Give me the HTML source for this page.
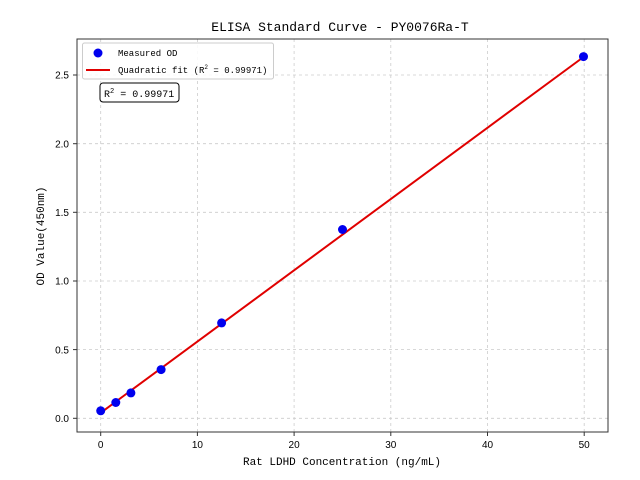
<!DOCTYPE html>
<html><head><meta charset="utf-8"><style>
body{margin:0;background:#fff}
svg{display:block;font-family:"Liberation Mono",monospace}
</style></head><body>
<svg width="640" height="480" viewBox="0 0 640 480" xmlns="http://www.w3.org/2000/svg">
<rect width="640" height="480" fill="#fff"/>
<text x="340" y="31" font-size="13" text-anchor="middle" fill="#000">ELISA Standard Curve - PY0076Ra-T</text>
<g stroke="#ccc" stroke-width="0.8" stroke-dasharray="3,3">
<line x1="100.7" y1="39" x2="100.7" y2="432"/><line x1="197.4" y1="39" x2="197.4" y2="432"/><line x1="294.1" y1="39" x2="294.1" y2="432"/><line x1="390.8" y1="39" x2="390.8" y2="432"/><line x1="487.5" y1="39" x2="487.5" y2="432"/><line x1="584.2" y1="39" x2="584.2" y2="432"/>
<line x1="77" y1="418.3" x2="608" y2="418.3"/><line x1="77" y1="349.6" x2="608" y2="349.6"/><line x1="77" y1="281" x2="608" y2="281"/><line x1="77" y1="212.3" x2="608" y2="212.3"/><line x1="77" y1="143.7" x2="608" y2="143.7"/><line x1="77" y1="75" x2="608" y2="75"/>
</g>
<line x1="100.7" y1="412.8" x2="584.2" y2="56.5" stroke="#e00000" stroke-width="2"/>
<g fill="#0000ee">
<circle cx="100.7" cy="410.8" r="4.5"/><circle cx="115.8" cy="402.5" r="4.5"/><circle cx="130.9" cy="392.9" r="4.5"/><circle cx="161.1" cy="369.6" r="4.5"/><circle cx="221.6" cy="322.9" r="4.5"/><circle cx="342.5" cy="229.5" r="4.5"/><circle cx="583.5" cy="56.6" r="4.5"/>
</g>
<rect x="77" y="39" width="531" height="393" fill="none" stroke="#333" stroke-width="1"/>
<g stroke="#333"><line x1="100.7" y1="432" x2="100.7" y2="436"/><line x1="197.4" y1="432" x2="197.4" y2="436"/><line x1="294.1" y1="432" x2="294.1" y2="436"/><line x1="390.8" y1="432" x2="390.8" y2="436"/><line x1="487.5" y1="432" x2="487.5" y2="436"/><line x1="584.2" y1="432" x2="584.2" y2="436"/>
<line x1="73" y1="418.3" x2="77" y2="418.3"/><line x1="73" y1="349.6" x2="77" y2="349.6"/><line x1="73" y1="281" x2="77" y2="281"/><line x1="73" y1="212.3" x2="77" y2="212.3"/><line x1="73" y1="143.7" x2="77" y2="143.7"/><line x1="73" y1="75" x2="77" y2="75"/></g>
<g font-size="10" fill="#000" text-anchor="middle" font-family="Liberation Sans, sans-serif">
<text x="100.7" y="448">0</text><text x="197.4" y="448">10</text><text x="294.1" y="448">20</text><text x="390.8" y="448">30</text><text x="487.5" y="448">40</text><text x="584.2" y="448">50</text></g>
<g font-size="10" fill="#000" text-anchor="end" font-family="Liberation Sans, sans-serif">
<text x="69" y="422">0.0</text><text x="69" y="353.3">0.5</text><text x="69" y="284.7">1.0</text><text x="69" y="216">1.5</text><text x="69" y="147.4">2.0</text><text x="69" y="78.7">2.5</text></g>
<text x="342" y="465" font-size="11" text-anchor="middle">Rat LDHD Concentration (ng/mL)</text>
<text transform="translate(44,236) rotate(-90)" font-size="11" text-anchor="middle">OD Value(450nm)</text>
<rect x="82.5" y="43" width="191" height="36" rx="2" fill="#fff" fill-opacity="0.85" stroke="#ccc"/>
<circle cx="98" cy="53" r="4.5" fill="#0000ee"/>
<text x="118" y="56" font-size="9">Measured OD</text>
<line x1="86" y1="70" x2="110" y2="70" stroke="#e00000" stroke-width="2"/>
<text x="118" y="73" font-size="9">Quadratic fit (R<tspan font-size="6" dy="-4">2</tspan><tspan dy="4"> = 0.99971)</tspan></text>
<rect x="100" y="83" width="79" height="19" rx="3" fill="#fff" stroke="#000"/>
<text x="104" y="97" font-size="10">R<tspan font-size="7" dy="-4">2</tspan><tspan dy="4"> = 0.99971</tspan></text>
</svg>
</body></html>
